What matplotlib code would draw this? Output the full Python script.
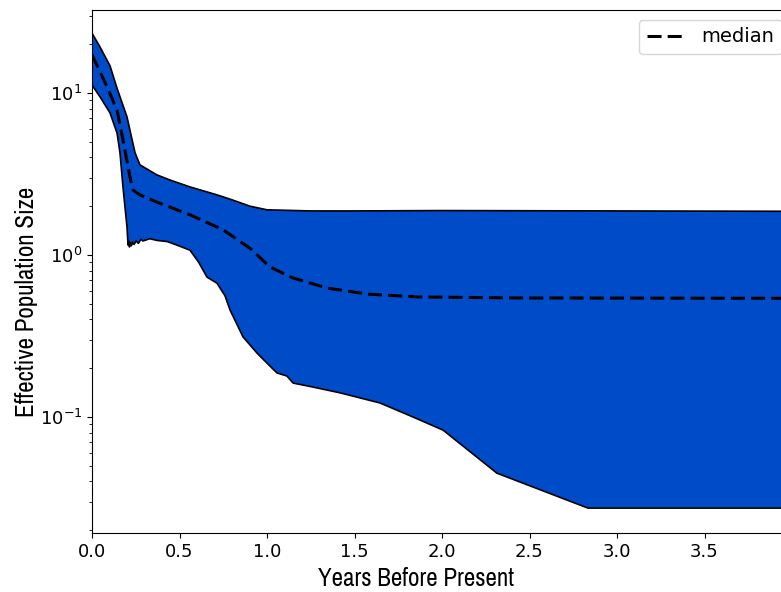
import numpy as np
from matplotlib import pyplot as plt

# upper bound of the band
t_upper = [0.0, 0.046, 0.103, 0.143, 0.200, 0.246, 0.274, 0.371, 0.446, 0.560, 0.714, 0.800, 0.903, 1.0,
           1.246, 1.5, 2.0, 3.0, 4.0]
upper = [23.4, 19.2, 14.7, 10.7, 7.11, 4.27, 3.60, 3.12, 2.90, 2.63, 2.35, 2.19, 2.00, 1.90,
         1.87, 1.87, 1.88, 1.87, 1.86]

# lower bound of the band
t_lower = [0.0, 0.046, 0.103, 0.143, 0.160, 0.177, 0.200, 0.206, 0.210, 0.214, 0.219, 0.225, 0.232,
           0.240, 0.252, 0.265, 0.280, 0.291, 0.330, 0.371, 0.430, 0.486, 0.560, 0.610, 0.657, 0.714,
           0.760, 0.789, 0.830, 0.863, 0.943, 1.000, 1.057, 1.114, 1.149, 1.263, 1.417, 1.646,
           1.834, 2.006, 2.314, 2.834, 4.0]
lower = [11.2, 9.45, 7.53, 5.66, 4.26, 2.63, 1.49, 1.15, 1.22, 1.12, 1.19, 1.14, 1.20,
         1.16, 1.22, 1.18, 1.25, 1.22, 1.26, 1.23, 1.21, 1.15, 1.07, 0.90, 0.73, 0.67,
         0.56, 0.457, 0.37, 0.312, 0.248, 0.215, 0.187, 0.179, 0.162, 0.153, 0.141, 0.122,
         0.100, 0.083, 0.045, 0.0274, 0.0274]

# median
t_median = [0.0, 0.086, 0.143, 0.177, 0.217, 0.234, 0.274, 0.371, 0.560, 0.749, 0.903, 1.017, 1.149,
            1.343, 1.571, 1.857, 2.429, 4.0]
median = [17.2, 10.9, 7.85, 5.13, 3.03, 2.52, 2.35, 2.12, 1.77, 1.43, 1.10, 0.843, 0.721,
          0.625, 0.574, 0.551, 0.543, 0.54]

fig = plt.figure(figsize=(7.81, 5.92), dpi=100)
ax = fig.add_axes([92 / 781, 1 - 533 / 592, 700 / 781, 523 / 592])

# band: upper edge then lower edge back
poly_x = np.concatenate([t_upper, t_lower[::-1]])
poly_y = np.concatenate([upper, lower[::-1]])
ax.fill(poly_x, poly_y, facecolor='#004cc8', edgecolor='none')
ax.plot(t_upper, upper, color='black', lw=1.2)
ax.plot(t_lower, lower, color='black', lw=1.2)
ax.plot(t_median, median, color='black', ls='--', lw=2.2, dashes=(4.6, 2.0), label='median')

ax.set_yscale('log')
ax.set_xlim(0, 4.0)
ax.set_ylim(10 ** -1.716, 10 ** 1.512)
ax.set_xticks([0.0, 0.5, 1.0, 1.5, 2.0, 2.5, 3.0, 3.5])
ax.tick_params(labelsize=13)

lab_font = dict(family=['Archivo Narrow', 'Roboto Condensed', 'DejaVu Sans'], fontsize=18)
ax.set_xlabel('Years Before Present', **lab_font)
ax.set_ylabel('Effective Population Size', **lab_font)
ax.xaxis.set_label_coords(0.463, -0.065)
ax.yaxis.set_label_coords(-0.077, 0.442)

ax.legend(loc='upper right', fontsize=14, handlelength=2.0)

fig.savefig('out.png', dpi=100)
